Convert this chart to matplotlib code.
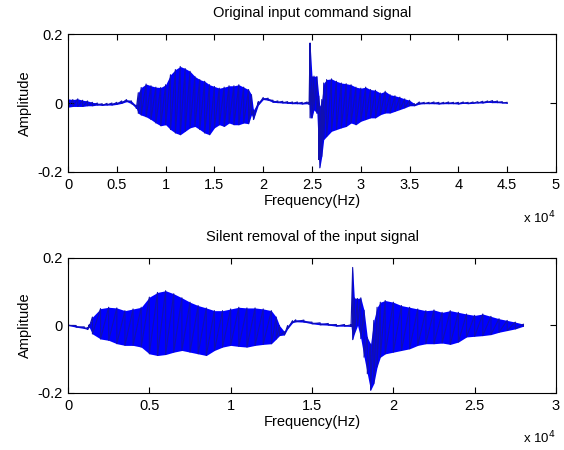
#!/usr/bin/env python3
"""
Speech command waveform before and after silence removal (MATLAB-style two-panel figure).
"""

import numpy as np
import matplotlib
matplotlib.use("Agg")
import matplotlib.pyplot as plt
from matplotlib.ticker import FuncFormatter

plt.rcParams['font.family'] = ['Liberation Sans', 'DejaVu Sans']

# Envelope of the original signal (x in units of 1e4 samples)
orig_x = [0, 0.05, 0.1, 0.15, 0.2, 0.25, 0.3, 0.35, 0.4, 0.45, 0.5, 0.55, 0.6, 0.65, 0.7,
          0.72, 0.75, 0.8, 0.85, 0.9, 0.95, 1.0, 1.05, 1.1, 1.15, 1.2, 1.25, 1.3, 1.35, 1.4,
          1.45, 1.5, 1.55, 1.6, 1.65, 1.7, 1.75, 1.8, 1.85, 1.88, 1.9, 1.95, 2.0, 2.05, 2.1,
          2.15, 2.2, 2.25, 2.3, 2.35, 2.4, 2.45, 2.47, 2.48, 2.5, 2.52, 2.55, 2.57, 2.58, 2.6,
          2.62, 2.65, 2.7, 2.75, 2.8, 2.85, 2.9, 2.95, 3.0, 3.05, 3.1, 3.15, 3.2, 3.25, 3.3,
          3.35, 3.4, 3.45, 3.5, 3.55, 3.6, 3.65, 3.7, 3.75, 3.8, 3.85, 3.9, 3.95, 4.0, 4.05,
          4.1, 4.15, 4.2, 4.25, 4.3, 4.35, 4.4, 4.45, 4.5]
orig_hi = [0.012, 0.010, 0.012, 0.008, 0.006, 0.002, 0.000, -0.002, -0.001, 0.000, 0.002, 0.006,
           0.010, 0.006, -0.008, 0.030, 0.045, 0.055, 0.050, 0.046, 0.045, 0.053, 0.082, 0.097,
           0.106, 0.100, 0.092, 0.077, 0.068, 0.063, 0.053, 0.048, 0.043, 0.046, 0.050, 0.050,
           0.053, 0.046, 0.039, 0.024, -0.020, 0.004, 0.016, 0.014, 0.008, 0.006, 0.005, 0.004,
           0.003, 0.003, 0.002, 0.003, 0.002, 0.174, 0.077, 0.078, 0.077, 0.020, -0.010, 0.010,
           0.058, 0.068, 0.070, 0.063, 0.058, 0.056, 0.053, 0.046, 0.043, 0.046, 0.039, 0.037,
           0.029, 0.034, 0.024, 0.021, 0.017, 0.012, 0.008, -0.002, 0.003, 0.002, 0.002, 0.003,
           0.002, 0.002, 0.003, 0.002, 0.002, 0.003, 0.002, 0.003, 0.004, 0.005, 0.006, 0.007,
           0.006, 0.004, 0.002]
orig_lo = [-0.012, -0.010, -0.010, -0.010, -0.008, -0.008, -0.006, -0.007, -0.006, -0.006, -0.004,
           -0.001, 0.004, -0.002, -0.016, -0.030, -0.035, -0.040, -0.048, -0.058, -0.066, -0.063,
           -0.077, -0.087, -0.092, -0.082, -0.072, -0.068, -0.077, -0.087, -0.092, -0.072, -0.063,
           -0.068, -0.058, -0.063, -0.063, -0.058, -0.060, -0.034, -0.048, -0.006, 0.010, 0.008,
           0.002, 0.001, 0.000, -0.001, -0.002, -0.002, -0.003, -0.002, -0.004, -0.043, -0.043,
           -0.020, -0.030, -0.164, -0.188, -0.155, -0.106, -0.097, -0.082, -0.077, -0.072, -0.068,
           -0.058, -0.063, -0.053, -0.048, -0.043, -0.043, -0.034, -0.029, -0.029, -0.024, -0.019,
           -0.014, -0.008, -0.008, -0.003, -0.002, -0.002, -0.002, -0.003, -0.002, -0.002, -0.002,
           -0.003, -0.001, -0.002, -0.001, 0.000, 0.000, 0.002, 0.001, 0.001, 0.000, -0.001]

# Envelope of the signal after silence removal
trim_x = [0, 0.05, 0.1, 0.12, 0.13, 0.15, 0.2, 0.25, 0.3, 0.35, 0.4, 0.45, 0.5, 0.55, 0.6, 0.65,
          0.7, 0.75, 0.8, 0.85, 0.9, 0.95, 1.0, 1.05, 1.1, 1.15, 1.2, 1.25, 1.28, 1.3, 1.33, 1.35,
          1.38, 1.4, 1.45, 1.5, 1.55, 1.6, 1.65, 1.7, 1.74, 1.75, 1.76, 1.78, 1.8, 1.82, 1.84,
          1.86, 1.88, 1.9, 1.92, 1.95, 2.0, 2.05, 2.1, 2.15, 2.2, 2.25, 2.3, 2.35, 2.4, 2.45, 2.5,
          2.55, 2.6, 2.65, 2.7, 2.75, 2.8]
trim_hi = [0.004, 0.000, -0.004, -0.007, 0.002, 0.025, 0.050, 0.054, 0.052, 0.044, 0.049, 0.054,
           0.084, 0.098, 0.103, 0.094, 0.082, 0.069, 0.059, 0.052, 0.044, 0.044, 0.049, 0.054,
           0.052, 0.052, 0.049, 0.044, 0.025, 0.000, -0.018, 0.000, 0.014, 0.017, 0.016, 0.010,
           0.008, 0.006, 0.003, 0.003, 0.002, 0.172, 0.082, 0.080, 0.082, 0.045, -0.035, -0.055,
           0.015, 0.054, 0.069, 0.074, 0.069, 0.059, 0.054, 0.049, 0.044, 0.046, 0.039, 0.044,
           0.039, 0.034, 0.030, 0.034, 0.027, 0.020, 0.015, 0.010, 0.004]
trim_lo = [0.000, -0.005, -0.009, -0.012, -0.005, -0.025, -0.040, -0.044, -0.054, -0.059, -0.059,
           -0.064, -0.084, -0.089, -0.086, -0.079, -0.074, -0.079, -0.084, -0.089, -0.074, -0.064,
           -0.059, -0.062, -0.064, -0.059, -0.056, -0.054, -0.040, -0.030, -0.028, -0.010, 0.008,
           0.011, 0.010, 0.005, 0.002, 0.001, -0.002, -0.002, -0.003, -0.042, -0.025, 0.000,
           -0.039, -0.094, -0.143, -0.192, -0.172, -0.123, -0.094, -0.084, -0.079, -0.074, -0.069,
           -0.059, -0.054, -0.054, -0.052, -0.056, -0.049, -0.034, -0.032, -0.030, -0.027, -0.020,
           -0.015, -0.010, -0.002]

LINE = '#0000ff'


def draw_wave(ax, xs, hi, lo):
    x = np.asarray(xs) * 1e4
    hi = np.asarray(hi)
    lo = np.asarray(lo)
    ax.fill_between(x, lo, hi, color=LINE, lw=0)
    # vertical strokes between the envelope values, like the dense waveform
    xz = np.repeat(x, 2)
    yz = np.column_stack([hi, lo]).ravel()
    ax.plot(xz, yz, color='#1010b0', lw=0.8)


def style_axes(ax, xmax, title):
    ax.set_xlim(0, xmax)
    ax.set_ylim(-0.2, 0.2)
    ax.set_yticks([-0.2, 0, 0.2])
    ax.set_yticklabels(['-0.2', '0', '0.2'])
    ax.xaxis.set_major_locator(plt.MultipleLocator(5000))
    ax.xaxis.set_major_formatter(FuncFormatter(lambda v, p: '%g' % (v / 1e4)))
    ax.tick_params(direction='in', top=True, right=True, length=4, width=0.8,
                   labelsize=10.5, pad=4)
    for s in ax.spines.values():
        s.set_linewidth(0.8)
    ax.set_title(title, fontsize=10.5, pad=12)
    ax.set_xlabel('Frequency(Hz)', fontsize=10.5, labelpad=1.5)
    ax.set_ylabel('Amplitude', fontsize=10.5, labelpad=4)
    ax.text(1.0, -0.27, r'x 10$^{4}$', transform=ax.transAxes, ha='right', va='top',
            fontsize=9.5)


fig = plt.figure(figsize=(5.64, 4.5), dpi=100)
ax1 = fig.add_axes([0.1206, 0.6178, 0.8652, 0.3066])
ax2 = fig.add_axes([0.1206, 0.1267, 0.8652, 0.3000])

draw_wave(ax1, orig_x, orig_hi, orig_lo)
style_axes(ax1, 50000, 'Original input command signal')

draw_wave(ax2, trim_x, trim_hi, trim_lo)
style_axes(ax2, 30000, 'Silent removal of the input signal')

fig.savefig('out.png', dpi=100)
